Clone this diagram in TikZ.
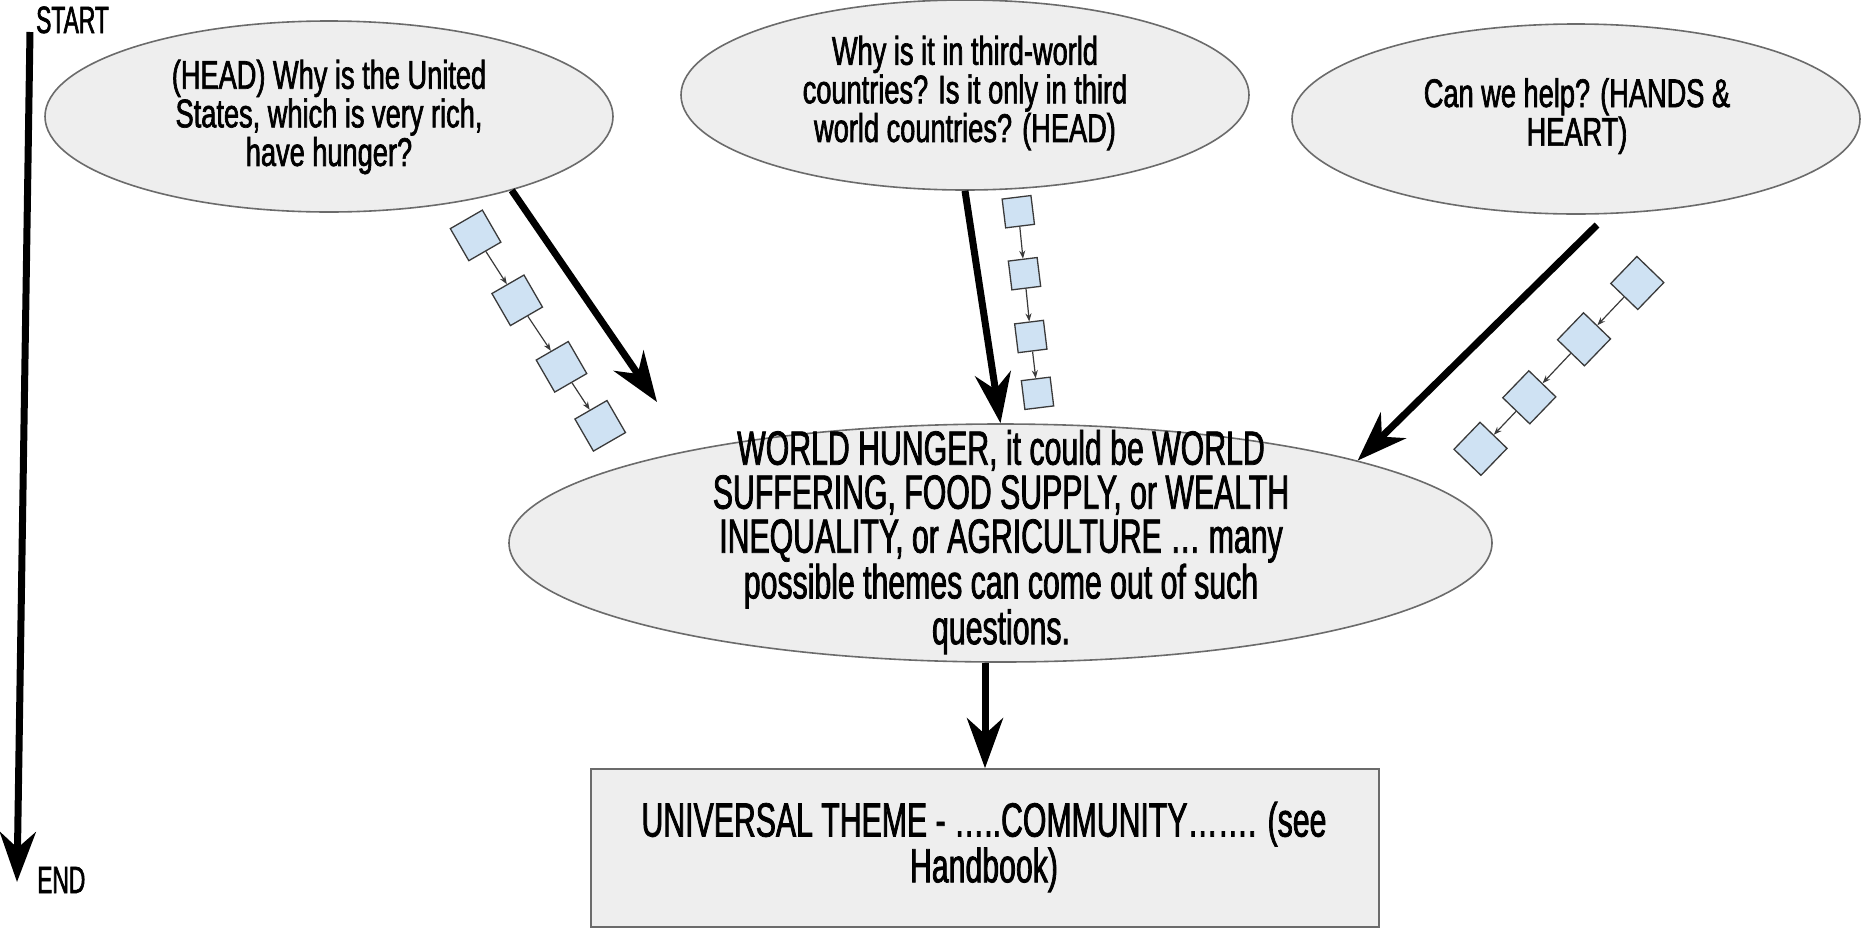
\documentclass[tikz,border=0pt]{standalone}
\usepackage{fontspec}
\setmainfont{Liberation Sans}[FakeStretch=0.7]
\newfontfamily\smallfont{Liberation Sans}[FakeStretch=0.68, FakeBold=1.6]
\newfontfamily\bigfont{Liberation Sans}[FakeStretch=0.63, FakeBold=1.6]
\newfontfamily\lblfont{Liberation Sans}[FakeStretch=0.6, FakeBold=1.6]
\usetikzlibrary{arrows.meta,shapes.geometric}
\definecolor{bubblefill}{HTML}{EEEEEE}
\definecolor{bubbleline}{HTML}{6B6B6B}
\definecolor{sqfill}{HTML}{CFE2F3}
\definecolor{sqline}{HTML}{3A3A3A}
\begin{document}
\begin{tikzpicture}[x=1pt,y=-1pt,
  bubble/.style={ellipse, draw=bubbleline, fill=bubblefill, line width=1.6pt, inner sep=0pt},
  panel/.style={rectangle, draw=bubbleline, fill=bubblefill, line width=1.6pt, inner sep=0pt},
  txt/.style={align=center, inner sep=0pt},
  smalltxt/.style={txt, font=\smallfont\fontsize{40}{38.6}\selectfont},
  bigtxt/.style={txt, font=\bigfont\fontsize{48}{44}\selectfont},
  labeltxt/.style={inner sep=0pt, font=\lblfont\fontsize{38}{38}\selectfont},
  bigarrow/.style={line width=7pt, -{Stealth[length=50pt,width=36pt,inset=16pt]}},
  sqbox/.style={draw=sqline, fill=sqfill, line width=1.3pt, minimum size=#1, inner sep=0pt},
  minarrow/.style={draw=sqline, line width=1.2pt, -{Stealth[length=8pt,width=6pt]}}
]
\useasboundingbox (0,0) rectangle (1864,927);

% bubbles
\node[bubble, minimum width=568pt, minimum height=191pt] (e1) at (329,116.5) {};
\node[bubble, minimum width=568pt, minimum height=190pt] (e2) at (965,95) {};
\node[bubble, minimum width=568pt, minimum height=190pt] (e3) at (1576,119) {};
\node[bubble, minimum width=983pt, minimum height=238pt] (m) at (1000.5,543) {};
\node[panel, minimum width=788pt, minimum height=158pt] (r) at (985,848) {};

% texts
\node[smalltxt] (t1) at (329,117) {(HEAD) Why is the United\\States, which is very rich,\\have hunger?};
\node[smalltxt] (t2) at (965,93) {Why is it in third-world\\countries? Is it only in third\\world countries? (HEAD)};
\node[smalltxt] (t3) at (1577,116) {Can we help? (HANDS \&\\HEART)};
\node[bigtxt] (tm) at (1001,542) {WORLD HUNGER, it could be WORLD\\SUFFERING, FOOD SUPPLY, or WEALTH\\INEQUALITY, or AGRICULTURE \dots\ many\\possible themes can come out of such\\questions.};
\node[bigtxt] (tr) at (984,847) {UNIVERSAL THEME - \dots..COMMUNITY\dots\dots. (see\\Handbook)};

% start / end
\coordinate (st) at (30,32);
\coordinate (en) at (17,882);
\draw[bigarrow] (st) -- (en);
\node[labeltxt, anchor=base west] (lstart) at (36,33) {START};
\node[labeltxt, anchor=base west] (lend) at (37,893) {END};

% big arrows
\coordinate (a1e) at (657,402);
\draw[bigarrow] (e1.-22) -- (a1e);
\draw[bigarrow] (e2.south) -- (m.north);
\coordinate (a3s) at (1597,225);
\draw[bigarrow] (a3s) -- (m.13.6);
\draw[bigarrow] (m.south -| r.north) -- (r.north);

% chain 1
\node[sqbox=37pt, rotate=30] (s11) at (475.6,235.4) {};
\node[sqbox=37pt, rotate=30] (s12) at (517.2,300.3) {};
\node[sqbox=37pt, rotate=30] (s13) at (561.5,366.8) {};
\node[sqbox=37pt, rotate=30] (s14) at (600.2,425.8) {};
\draw[minarrow] (s11) -- (s12);
\draw[minarrow] (s12) -- (s13);
\draw[minarrow] (s13) -- (s14);

% chain 2
\node[sqbox=29pt, rotate=7] (s21) at (1018.3,211.7) {};
\node[sqbox=29pt, rotate=7] (s22) at (1024.5,273.7) {};
\node[sqbox=29pt, rotate=7] (s23) at (1030.8,336.5) {};
\node[sqbox=29pt, rotate=7] (s24) at (1037.5,393.3) {};
\draw[minarrow] (s21) -- (s22);
\draw[minarrow] (s22) -- (s23);
\draw[minarrow] (s23) -- (s24);

% chain 3
\node[sqbox=37.5pt, rotate=46] (s31) at (1637.3,283) {};
\node[sqbox=37.5pt, rotate=46] (s32) at (1584,339.3) {};
\node[sqbox=37.5pt, rotate=46] (s33) at (1529.3,397.3) {};
\node[sqbox=37.5pt, rotate=46] (s34) at (1480.5,448.8) {};
\draw[minarrow] (s31) -- (s32);
\draw[minarrow] (s32) -- (s33);
\draw[minarrow] (s33) -- (s34);
\end{tikzpicture}
\end{document}
